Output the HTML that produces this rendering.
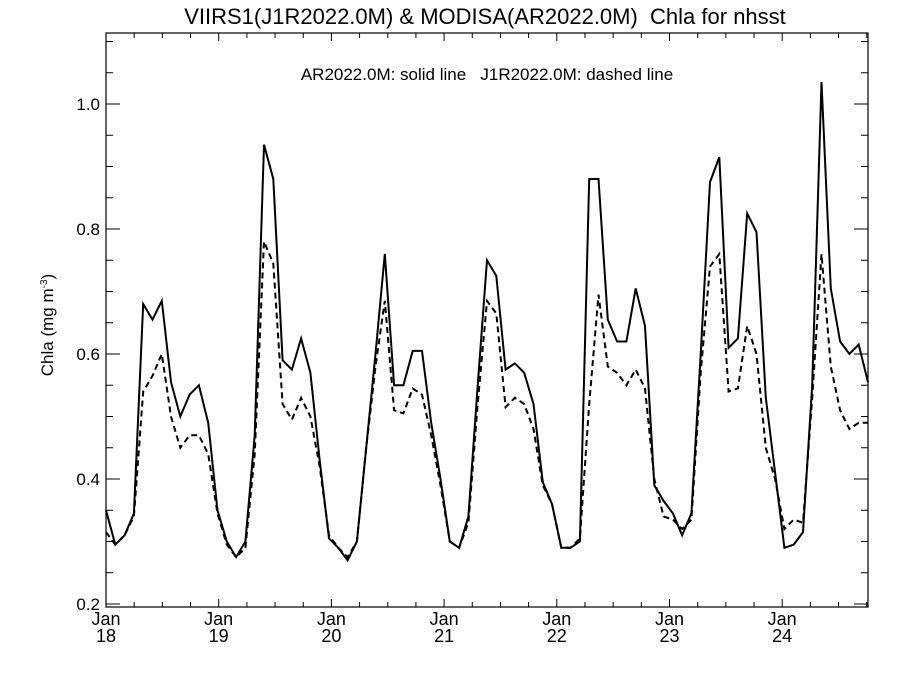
<!DOCTYPE html>
<html><head><meta charset="utf-8"><style>
body{margin:0;background:#fff;}
svg{display:block;font-family:"Liberation Sans",sans-serif;}
text{white-space:pre;}
</style></head><body>
<svg id="chart" width="900" height="675">
<text x="485" y="24" font-size="22" text-anchor="middle">VIIRS1(J1R2022.0M) &amp; MODISA(AR2022.0M)  Chla for nhsst</text>
<text x="487" y="80" font-size="17" text-anchor="middle">AR2022.0M: solid line   J1R2022.0M: dashed line</text>
<text transform="translate(53,325) rotate(-90)" font-size="17" text-anchor="middle">Chla (mg m<tspan dy="-6" font-size="10">-3</tspan><tspan dy="6">)</tspan></text>
<rect x="106" y="33" width="762" height="574" fill="none" stroke="#000" stroke-width="1.2"/>
<g id="axes"></g>
<g id="series"></g>
</svg>
<script>
const solid = [0.35,0.295,0.31,0.345,0.68,0.655,0.685,0.555,0.50,0.535,0.55,0.49,
0.35,0.30,0.275,0.30,0.47,0.935,0.88,0.59,0.575,0.625,0.57,0.43,
0.305,0.29,0.27,0.30,0.45,0.60,0.76,0.55,0.55,0.605,0.605,0.49,
0.40,0.30,0.29,0.34,0.55,0.75,0.725,0.575,0.585,0.57,0.52,0.395,
0.36,0.29,0.29,0.30,0.88,0.88,0.655,0.62,0.62,0.705,0.645,0.39,
0.365,0.345,0.31,0.345,0.60,0.875,0.915,0.61,0.625,0.825,0.795,0.53,
0.41,0.29,0.295,0.315,0.55,1.035,0.705,0.62,0.60,0.615,0.555];
const dashed = [0.315,0.295,0.31,0.34,0.54,0.565,0.60,0.50,0.45,0.47,0.47,0.44,
0.345,0.295,0.275,0.29,0.44,0.78,0.745,0.52,0.495,0.53,0.50,0.42,
0.31,0.29,0.275,0.30,0.45,0.58,0.685,0.51,0.505,0.545,0.535,0.47,
0.39,0.30,0.29,0.33,0.52,0.685,0.665,0.515,0.53,0.52,0.48,0.39,
0.36,0.29,0.29,0.305,0.52,0.695,0.58,0.57,0.55,0.575,0.545,0.40,
0.34,0.335,0.32,0.335,0.57,0.74,0.76,0.54,0.545,0.645,0.60,0.45,
0.40,0.32,0.335,0.33,0.53,0.76,0.58,0.51,0.48,0.49,0.49];
const yTicks = [0.2,0.4,0.6,0.8,1.0];
const xTickYears = ["18","19","20","21","22","23","24"];
const NS="http://www.w3.org/2000/svg";
const L=106,R=868,T=33,B=607;
function y(v){return 604-(v-0.2)*625;}
function xi(i){return L+i*(R-L)/(solid.length-1);}
function xYear(k){return L+k*112.7;}
const axes=document.getElementById('axes');
function mk(tag,attrs,parent){const e=document.createElementNS(NS,tag);for(const k in attrs)e.setAttribute(k,attrs[k]);parent.appendChild(e);return e;}
for(let s=0;s<=18;s++){
  const v=0.2+s*0.05;
  const len=s%4===0?14:7;
  const t1=mk('line',{x1:L,x2:L+len,y1:y(v),y2:y(v),stroke:'#000'},axes);
  
  
  const t2=mk('line',{x1:R,x2:R-len,y1:y(v),y2:y(v),stroke:'#000'},axes);
  
  
}
yTicks.forEach(v=>{
  const t=mk('text',{x:L-6,y:y(v)+6,'font-size':17,'text-anchor':'end'},axes);
  t.textContent=v.toFixed(1);
  
  
});
for(let m=0;m<=81;m+=3){
  const xx=L+m*112.7/12; if(xx>R)break;
  const len=m%12===0?8:5;
  const a=mk('line',{x1:xx,x2:xx,y1:B,y2:B-len,stroke:'#000'},axes);
  
  
  const b=mk('line',{x1:xx,x2:xx,y1:T,y2:T+len,stroke:'#000'},axes);
  
  
}
xTickYears.forEach((yr,k)=>{
  const t=mk('text',{x:xYear(k),y:625,'font-size':18,'text-anchor':'middle'},axes);
  t.textContent='Jan';
  
  
  const t2=mk('text',{x:xYear(k),y:642,'font-size':18,'text-anchor':'middle'},axes);
  t2.textContent=yr;
  
  
});
const g=document.getElementById('series');
function pts(arr){return arr.map((v,i)=>xi(i).toFixed(1)+','+y(v).toFixed(1)).join(' ');}
const p1=mk('polyline',{points:pts(solid),fill:'none',stroke:'#000','stroke-width':2,'stroke-linejoin':'miter'},g);


const p2=mk('polyline',{points:pts(dashed),fill:'none',stroke:'#000','stroke-width':2,'stroke-dasharray':'6,4'},g);


</script>
</body></html>
